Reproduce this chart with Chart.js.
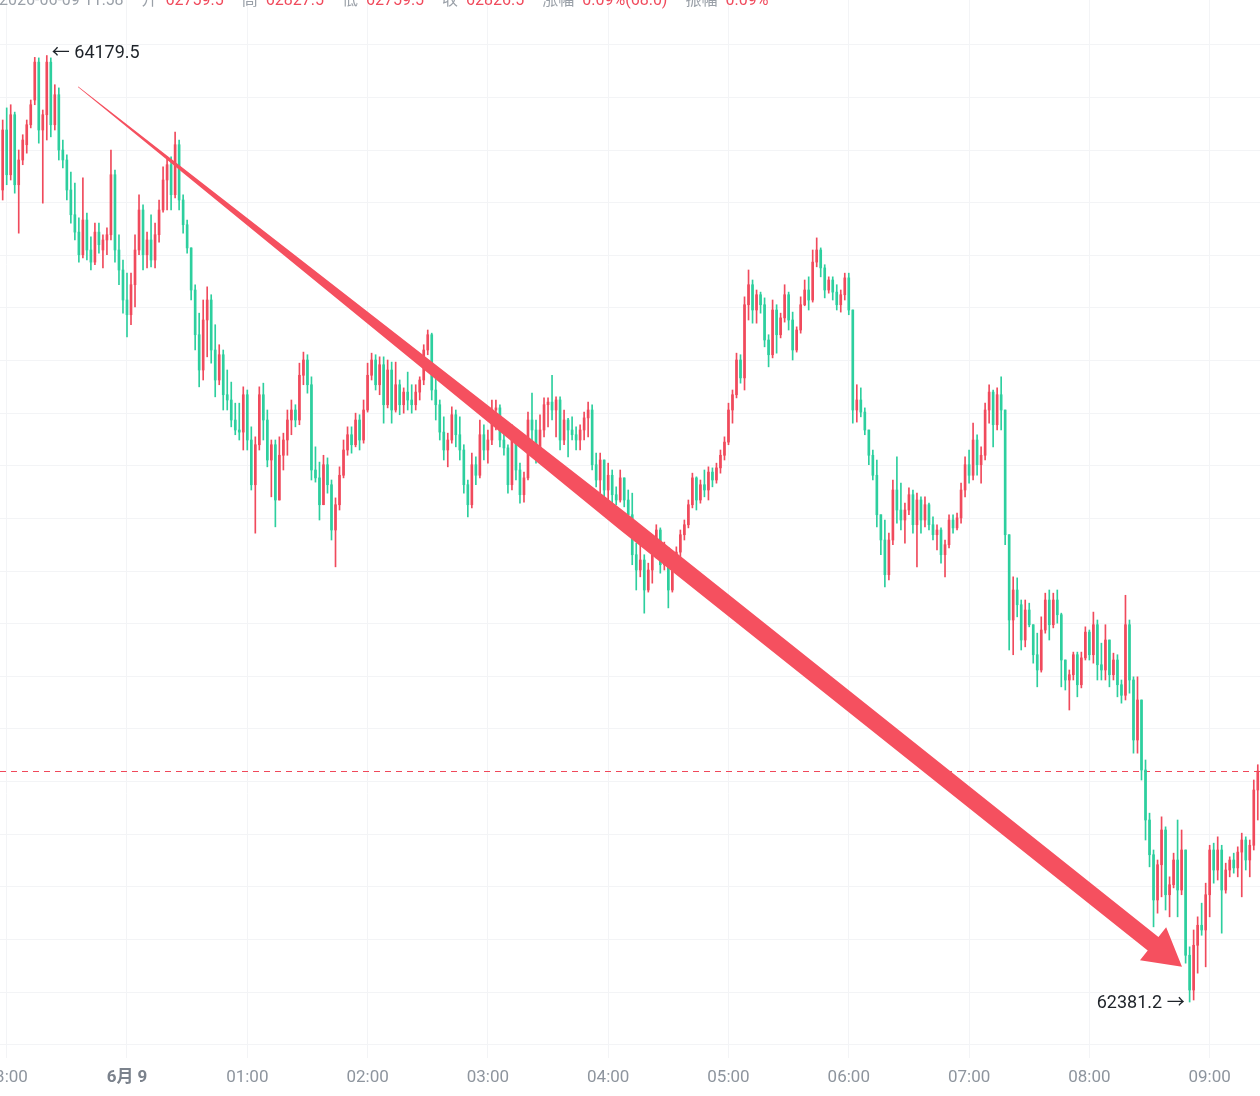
<!DOCTYPE html>
<html>
<head>
<meta charset="utf-8">
<script src="https://cdn.jsdelivr.net/npm/chart.js@4.4.1/dist/chart.umd.min.js"></script>
<style>
html, body { margin: 0; padding: 0; background: #fff; }
</style>
</head>
<body>
<canvas id="kline" width="1260" height="1096"></canvas>
<script>
// 2 分钟 K 线, 时间为相对 6月9日 00:00 的分钟数
var startMinute = -62;
var stepMinutes = 2;

var opens = [
  63924,64038,63953,64067,63934,63981,64010,64048,64095,64167,
  64038,64067,64167,64048,64105,64000,63981,63924,63877,63844,
  63801,63867,63810,63787,63844,63810,63829,63839,63953,63810,
  63772,63715,63687,63744,63810,63886,63801,63829,63791,63839,
  63886,63943,63972,63915,64010,63905,63858,63814,63734,63649,
  63582,63677,63715,63620,63563,63611,63535,63525,63487,63468,
  63464,63535,63449,63364,63440,63535,63487,63411,63440,63335,
  63420,63449,63487,63506,63487,63572,63601,63554,63392,63377,
  63326,63402,63364,63278,63326,63382,63430,63459,63440,63487,
  63449,63506,63572,63601,63554,63592,63516,63582,63506,63554,
  63516,63540,63525,63516,63540,63563,63620,63649,63544,63516,
  63464,63430,63449,63497,63459,63430,63364,63326,63402,63382,
  63459,63430,63449,63506,63510,63449,63434,63364,63449,63392,
  63345,63377,63487,63468,63420,63468,63516,63521,63506,63525,
  63449,63487,63468,63459,63449,63468,63491,63506,63402,63373,
  63411,63354,63382,63345,63335,63377,63335,63307,63231,63202,
  63221,63164,63202,63231,63278,63212,63244,63164,63212,63236,
  63269,63288,63326,63377,63335,63364,63354,63388,63373,63396,
  63420,63445,63506,63535,63601,63567,63706,63744,63696,63725,
  63706,63639,63611,63696,63649,63681,63725,63677,63620,63658,
  63706,63734,63715,63787,63810,63776,63734,63753,63730,63706,
  63725,63757,63696,63506,63525,63502,63468,63420,63382,63307,
  63259,63193,63259,63354,63316,63297,63316,63345,63288,63335,
  63297,63326,63288,63269,63278,63231,63250,63297,63282,63301,
  63354,63402,63382,63449,63402,63420,63506,63540,63478,63535,
  63506,63269,63107,63164,63136,63069,63126,63098,63041,63012,
  63088,63145,63098,63145,63117,63031,62993,63003,63041,62984,
  63035,63084,63041,63098,63022,63012,63069,63003,63031,62984,
  62964,63098,62993,62879,62955,62822,62727,62661,62575,62642,
  62708,62585,62604,62651,62594,62670,62470,62404,62489,62527,
  62518,62585,62670,62632,62670,62594,62632,62651,62636,62666,
  62689,62651,62679,62784
];
var highs = [
  64057,64080,64086,64072,64000,64029,64057,64095,64176,64175,
  64076,64179.5,64175,64124,64118,64019,63991,63958,63937,63871,
  63947,63880,63835,63861,63861,63839,63852,64000,63962,63839,
  63791,63766,63766,63839,63915,63896,63844,63877,63861,63905,
  63968,63987,63987,64034,64019,63915,63867,63814,63744,63690,
  63715,63740,63725,63668,63630,63620,63582,63559,63519,63519,
  63550,63544,63474,63455,63550,63557,63506,63449,63449,63455,
  63462,63506,63525,63516,63595,63616,63611,63569,63436,63407,
  63420,63415,63373,63339,63398,63449,63474,63474,63500,63497,
  63525,63595,63614,63611,63607,63607,63601,63597,63597,63563,
  63548,63578,63554,63554,63569,63630,63658,63652,63569,63525,
  63493,63462,63512,63506,63493,63440,63373,63424,63417,63487,
  63478,63468,63525,63525,63516,63462,63440,63478,63468,63405,
  63388,63502,63538,63487,63497,63529,63529,63572,63531,63531,
  63506,63490,63493,63474,63478,63502,63521,63516,63424,63424,
  63411,63405,63392,63360,63392,63377,63354,63348,63253,63253,
  63231,63215,63240,63288,63282,63255,63244,63221,63246,63278,
  63297,63335,63386,63379,63373,63392,63398,63396,63405,63430,
  63455,63519,63544,63614,63611,63721,63772,63753,63734,63730,
  63719,63649,63715,63706,63690,63744,63730,63692,63664,63721,
  63753,63759,63810,63833,63814,63782,63759,63759,63744,63734,
  63766,63766,63696,63554,63548,63510,63468,63430,63411,63307,
  63297,63272,63373,63417,63367,63329,63358,63354,63348,63341,
  63341,63329,63303,63288,63282,63259,63307,63307,63310,63367,
  63417,63430,63481,63459,63436,63519,63554,63544,63548,63569,
  63506,63269,63189,63187,63145,63145,63139,63098,63082,63113,
  63158,63164,63158,63164,63120,63031,63012,63046,63046,63046,
  63094,63088,63122,63107,63063,63098,63069,63044,63041,62993,
  63154,63107,62999,62999,62955,62841,62740,62670,62651,62733,
  62714,62619,62664,62727,62708,62670,62486,62518,62543,62569,
  62607,62679,62683,62695,62679,62645,62657,62664,62676,62702,
  62695,62689,62803,62832
];
var lows = [
  63905,63934,63943,63918,63842,63972,63994,64042,64086,64013,
  63899,64019,64025,64038,63981,63966,63905,63861,63829,63787,
  63795,63791,63772,63782,63804,63776,63801,63829,63787,63744,
  63690,63645,63668,63702,63801,63772,63776,63778,63776,63825,
  63882,63886,63886,63909,63886,63842,63804,63715,63620,63550,
  63563,63607,63595,63531,63554,63506,63506,63474,63459,63449,
  63430,63430,63354,63272,63430,63449,63398,63341,63284,63335,
  63392,63420,63459,63474,63478,63554,63538,63373,63369,63297,
  63326,63348,63259,63208,63316,63377,63420,63424,63436,63430,
  63443,63502,63563,63544,63535,63481,63510,63481,63502,63497,
  63500,63506,63500,63506,63525,63554,63611,63525,63487,63449,
  63411,63398,63443,63436,63411,63348,63303,63320,63364,63377,
  63411,63405,63440,63468,63436,63420,63348,63354,63373,63329,
  63331,63373,63436,63405,63411,63455,63474,63487,63455,63430,
  63440,63417,63449,63430,63430,63449,63455,63392,63360,63348,
  63341,63329,63329,63326,63331,63322,63297,63212,63164,63189,
  63120,63160,63177,63225,63196,63202,63130,63160,63206,63221,
  63259,63282,63320,63316,63329,63341,63335,63360,63367,63386,
  63411,63440,63481,63529,63557,63544,63677,63671,63671,63690,
  63626,63588,63605,63614,63643,63673,63658,63601,63616,63652,
  63704,63696,63711,63778,63759,63719,63728,63715,63696,63692,
  63715,63687,63481,63483,63493,63459,63402,63373,63284,63231,
  63170,63183,63250,63291,63278,63253,63307,63272,63208,63272,
  63284,63278,63259,63240,63215,63189,63244,63272,63278,63291,
  63341,63367,63373,63382,63367,63411,63481,63436,63468,63468,
  63250,63050,63041,63113,63050,63056,63094,63025,62980,63008,
  63082,63069,63092,63101,62980,62974,62936,62993,62961,62978,
  63031,63031,63025,62993,62993,62993,62980,62993,62961,62949,
  62955,62968,62854,62854,62803,62689,62638,62524,62550,62581,
  62556,62543,62598,62543,62585,62455,62381.2,62385,62436,62508,
  62448,62543,62607,62613,62512,62588,62619,62626,62619,62581,
  62632,62619,62670,62727
];
var closes = [
  64038,63953,64067,63934,63981,64019,64048,64086,64167,64038,
  64067,64167,64048,64105,64000,63981,63924,63877,63844,63801,
  63867,63810,63787,63844,63820,63829,63839,63953,63810,63772,
  63715,63687,63744,63810,63886,63801,63829,63791,63839,63886,
  63943,63972,63915,64010,63905,63858,63814,63734,63649,63582,
  63677,63715,63620,63563,63611,63535,63525,63487,63468,63464,
  63535,63449,63364,63440,63535,63487,63411,63440,63335,63420,
  63449,63487,63506,63487,63572,63601,63554,63392,63377,63326,
  63402,63364,63278,63326,63382,63430,63459,63440,63487,63449,
  63506,63572,63601,63554,63592,63516,63582,63506,63554,63516,
  63540,63525,63516,63540,63563,63620,63649,63544,63516,63464,
  63430,63449,63497,63459,63430,63364,63326,63402,63382,63459,
  63430,63449,63506,63510,63449,63434,63364,63449,63392,63345,
  63377,63487,63468,63420,63468,63516,63521,63506,63525,63449,
  63487,63468,63459,63449,63468,63491,63506,63402,63373,63411,
  63354,63382,63345,63335,63377,63335,63307,63231,63202,63221,
  63164,63202,63231,63278,63212,63244,63164,63212,63236,63269,
  63288,63326,63377,63335,63364,63354,63388,63373,63396,63420,
  63445,63506,63535,63601,63567,63706,63744,63696,63725,63706,
  63639,63611,63696,63649,63681,63725,63677,63620,63658,63706,
  63734,63715,63787,63810,63776,63734,63753,63730,63706,63725,
  63757,63696,63506,63525,63502,63468,63420,63382,63307,63259,
  63193,63259,63354,63316,63297,63316,63345,63288,63335,63297,
  63326,63288,63269,63278,63231,63250,63297,63282,63301,63354,
  63402,63382,63449,63402,63420,63506,63540,63478,63535,63506,
  63269,63107,63164,63136,63069,63126,63098,63041,63012,63088,
  63145,63098,63145,63117,63031,62993,63003,63041,62984,63035,
  63084,63041,63098,63022,63012,63069,63003,63031,62984,62964,
  63098,62993,62879,62955,62822,62727,62661,62575,62642,62708,
  62585,62604,62651,62594,62670,62470,62404,62489,62527,62518,
  62585,62670,62632,62670,62594,62632,62651,62636,62666,62689,
  62651,62679,62784,62820
];

var hourTicks = [-60, 0, 60, 120, 180, 240, 300, 360, 420, 480, 540];
var priceLines = [62300, 62400, 62500, 62600, 62700, 62800, 62900, 63000, 63100, 63200,
                  63300, 63400, 63500, 63600, 63700, 63800, 63900, 64000, 64100, 64200];
var highMark = 64179.5;
var lowMark = 62381.2;
var lastPrice = 62820;
// 箭头: [分钟, 价格]
var arrowFrom = [-24.4, 64120];
var arrowTo = [526.2, 62448];
var headerParts = [
  ['2026-06-09 11:58', 0], ['开', 0], ['62759.5', 1], ['高', 0], ['62827.5', 1],
  ['低', 0], ['62759.5', 1], ['收', 0], ['62826.5', 1], ['涨幅', 0], ['0.09%(68.0)', 1],
  ['振幅', 0], ['0.09%', 1]
];

var red = '#f04a5c';
var green = '#2dcf9e';
var fontFamily = "Roboto, 'Noto Sans CJK SC', sans-serif";

var minutes = closes.map(function (c, i) { return startMinute + i * stepMinutes; });
var colors = closes.map(function (c, i) { return c >= opens[i] ? red : green; });
var wicks = minutes.map(function (m, i) { return { x: m, y: [lows[i], highs[i]] }; });
var bodies = minutes.map(function (m, i) { return { x: m, y: [opens[i], closes[i]] }; });

function hourLabel(v) {
  if (v === 0) return '6月 9';
  var h = ((v / 60) % 24 + 24) % 24;
  return (h < 10 ? '0' : '') + h + ':00';
}

var overlay = {
  id: 'overlay',
  beforeDatasetsDraw: function (chart) {
    var c = chart.ctx, area = chart.chartArea;
    var y = Math.round(chart.scales.y.getPixelForValue(lastPrice)) + 0.5;
    c.save();
    c.strokeStyle = '#f0485a';
    c.lineWidth = 1;
    c.setLineDash([6, 5]);
    c.beginPath();
    c.moveTo(area.left, y);
    c.lineTo(area.right, y);
    c.stroke();
    c.restore();
  },
  afterDatasetsDraw: function (chart) {
    var c = chart.ctx, xs = chart.scales.x, ys = chart.scales.y;

    // 趋势箭头
    var x0 = xs.getPixelForValue(arrowFrom[0]), y0 = ys.getPixelForValue(arrowFrom[1]);
    var x1 = xs.getPixelForValue(arrowTo[0]), y1 = ys.getPixelForValue(arrowTo[1]);
    var dx = x1 - x0, dy = y1 - y0, len = Math.sqrt(dx * dx + dy * dy);
    var ux = dx / len, uy = dy / len, nx = -uy, ny = ux;
    var headLen = 37, headHalf = 21, shaftHalf = 8.6, taper = 700;
    function P(d, w) { return [x0 + ux * d + nx * w, y0 + uy * d + ny * w]; }
    var pts = [P(0, 0.3), P(taper, shaftHalf), P(len - headLen, shaftHalf), P(len - headLen, headHalf),
               P(len, 0), P(len - headLen, -headHalf), P(len - headLen, -shaftHalf), P(taper, -shaftHalf), P(0, -0.3)];
    c.save();
    c.fillStyle = '#f5505f';
    c.beginPath();
    c.moveTo(pts[0][0], pts[0][1]);
    for (var i = 1; i < pts.length; i++) c.lineTo(pts[i][0], pts[i][1]);
    c.closePath();
    c.fill();
    c.restore();

    // 最高 / 最低 标注
    var hi = highs.indexOf(highMark), lo = lows.indexOf(lowMark);
    c.save();
    c.font = '18px ' + fontFamily;
    c.fillStyle = '#1e2329';
    c.textBaseline = 'middle';
    c.textAlign = 'left';
    c.fillText('\u2190 ' + highMark.toFixed(1), xs.getPixelForValue(minutes[hi]) + 5, ys.getPixelForValue(highMark) - 2);
    c.textAlign = 'right';
    c.fillText(lowMark.toFixed(1) + ' \u2192', xs.getPixelForValue(minutes[lo]) - 5, ys.getPixelForValue(lowMark) + 1);
    c.restore();
  },
  afterDraw: function (chart) {
    // 顶部信息栏 (被裁掉一半)
    var c = chart.ctx, x = -1;
    c.save();
    c.font = '16px ' + fontFamily;
    c.textBaseline = 'alphabetic';
    headerParts.forEach(function (p, i) {
      c.fillStyle = p[1] ? red : '#9aa0a8';
      c.fillText(p[0], x, 5);
      var gap = (p[1] || i === 0) ? 18 : 8;
      x += c.measureText(p[0]).width + gap;
    });
    c.restore();
  }
};

var chart = new Chart(document.getElementById('kline'), {
  type: 'bar',
  data: {
    datasets: [
      { data: wicks, backgroundColor: colors, barThickness: 1, grouped: false, order: 2 },
      { data: bodies, backgroundColor: colors, barThickness: 2, grouped: false, minBarLength: 1, order: 1 }
    ]
  },
  options: {
    responsive: false,
    animation: false,
    layout: { autoPadding: false, padding: { left: 0, right: 0, top: 0, bottom: 8 } },
    plugins: { legend: { display: false }, tooltip: { enabled: false } },
    scales: {
      x: {
        type: 'linear',
        min: -63.34,
        max: 565.1,
        offset: false,
        border: { display: false },
        grid: { color: '#f3f4f6', drawTicks: false, offset: false },
        afterBuildTicks: function (s) { s.ticks = hourTicks.map(function (v) { return { value: v }; }); },
        afterFit: function (s) { s.height = 30; s.paddingLeft = 0; s.paddingRight = 0; },
        ticks: {
          autoSkip: false,
          maxRotation: 0,
          padding: 10,
          callback: function (v) { return hourLabel(v); },
          color: function (ctx) { return ctx.tick && ctx.tick.value === 0 ? '#7b828c' : '#8e959e'; },
          font: function (ctx) {
            return { family: fontFamily, size: 17, weight: ctx.tick && ctx.tick.value === 0 ? 'bold' : 'normal' };
          }
        }
      },
      y: {
        type: 'linear',
        position: 'right',
        min: 62274.8,
        max: 64285,
        border: { display: false },
        grid: { color: '#f3f4f6', drawTicks: false },
        afterBuildTicks: function (s) { s.ticks = priceLines.map(function (v) { return { value: v }; }); },
        afterFit: function (s) { s.width = 0; s.paddingTop = 0; s.paddingBottom = 0; },
        ticks: { display: false }
      }
    }
  },
  plugins: [overlay]
});
</script>
</body>
</html>
